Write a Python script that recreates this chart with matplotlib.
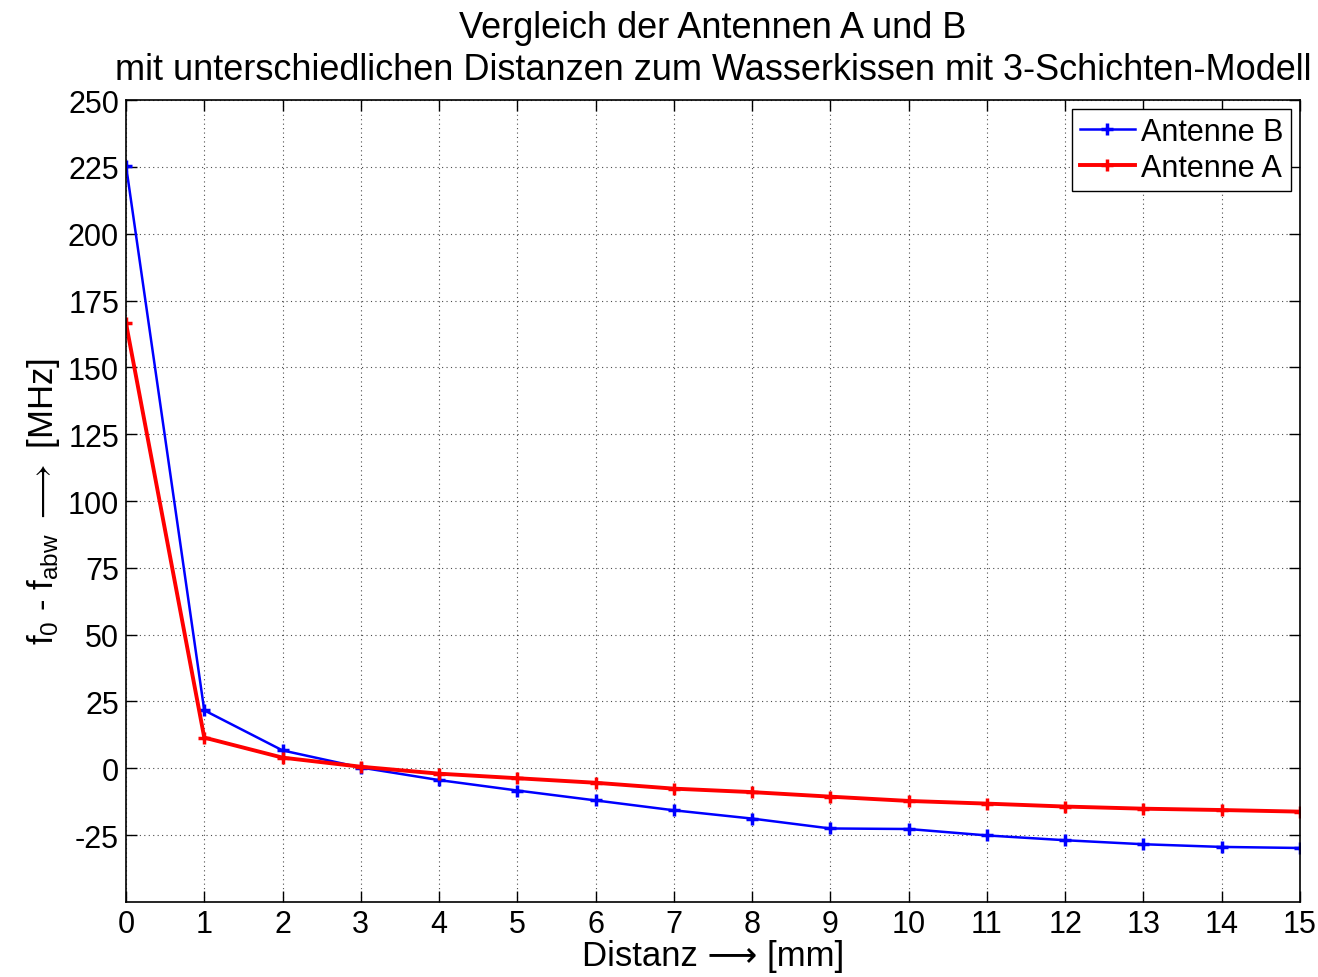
import numpy as np
import matplotlib
matplotlib.use('Agg')
import matplotlib.pyplot as plt

plt.rcParams['font.family'] = ['Liberation Sans', 'DejaVu Sans']
plt.rcParams['mathtext.fontset'] = 'custom'
plt.rcParams['mathtext.rm'] = 'Liberation Sans'
plt.rcParams['mathtext.it'] = 'Liberation Sans'
plt.rcParams['mathtext.fallback'] = 'stixsans'
plt.rcParams['axes.unicode_minus'] = False

# Data
distanz = np.arange(0, 16)
antenne_b = [225.5, 21.7, 6.7, 0.3, -4.4, -8.3, -12.0, -15.7, -18.8, -22.5,
             -22.7, -25.1, -26.9, -28.4, -29.4, -29.8]
antenne_a = [166.5, 11.5, 4.0, 0.6, -2.0, -3.7, -5.4, -7.6, -8.9, -10.6,
             -12.2, -13.2, -14.3, -15.1, -15.6, -16.2]
yticks = [-25, 0, 25, 50, 75, 100, 125, 150, 175, 200, 225, 250]

fig = plt.figure(figsize=(13.18, 9.78), dpi=100)
ax = fig.add_axes([0.0956, 0.0767, 0.8907, 0.82])

ax.plot(distanz, antenne_b, color='blue', linewidth=1.8, marker='+',
        markersize=9, markeredgewidth=2.5, label='Antenne B')
ax.plot(distanz, antenne_a, color='red', linewidth=2.8, marker='+',
        markersize=9, markeredgewidth=2.5, label='Antenne A')

ax.set_xlim(0, 15)
ax.set_ylim(-50, 250)
ax.set_xticks(distanz)
ax.set_yticks(yticks)
ax.tick_params(direction='in', labelsize=22, length=8, width=1, pad=5,
               top=True, right=True)
ax.grid(True, color='black', linestyle=(0, (1, 3)), linewidth=0.8, alpha=0.7)
for s in ax.spines.values():
    s.set_linewidth(1.2)

ax.set_title('Vergleich der Antennen A und B\n'
             'mit unterschiedlichen Distanzen zum Wasserkissen mit 3-Schichten-Modell',
             fontsize=26, pad=15, linespacing=1.25)
ax.set_xlabel('Distanz \u27f6 [mm]', fontsize=25, labelpad=0)
ax.set_ylabel(r'f$_\mathrm{0}$ - f$_\mathrm{abw}$ $\longrightarrow$ [MHz]', fontsize=25, labelpad=4)

leg = ax.legend(loc='upper right', fontsize=22, fancybox=False, framealpha=1,
                edgecolor='black', handlelength=1.8, handletextpad=0.2,
                borderpad=0.25, labelspacing=0.2, borderaxespad=0.3)
leg.get_frame().set_linewidth(1.0)

plt.savefig('out.png', dpi=100)
plt.close('all')
